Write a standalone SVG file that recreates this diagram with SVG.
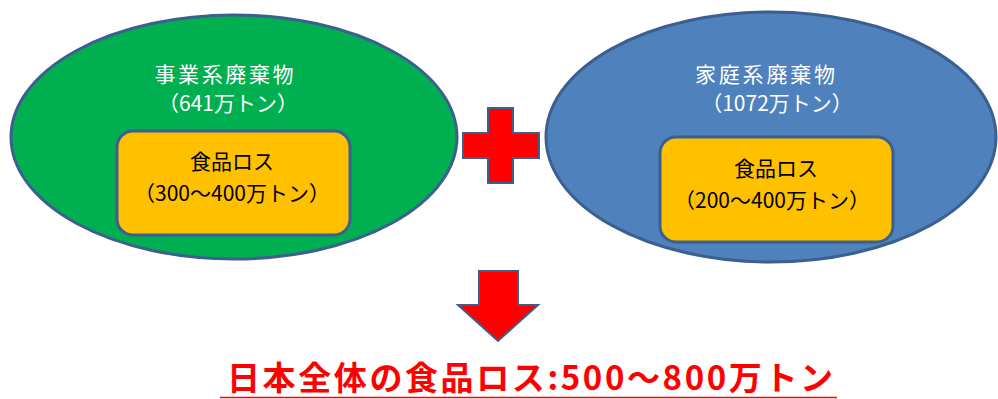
<svg xmlns="http://www.w3.org/2000/svg" width="998" height="399" viewBox="0 0 998 399">
<style>
.ell{stroke:#3B5F8F;stroke-width:3}
.box{fill:#FFC000;stroke:#3B5F8F;stroke-width:3}
.sym{fill:#FF0000;stroke:#3B5F8F;stroke-width:2}
text{font-family:"Noto Sans CJK JP","Noto Sans",sans-serif;text-anchor:middle}
.wt{fill:#FFFFFF;font-size:21px}
.bt{fill:#000000;font-size:21px}
.title{fill:#FF0000;font-size:33px;font-weight:bold;text-anchor:start}
</style>
<rect width="998" height="399" fill="#FFFFFF"/>
<g id="business">
<ellipse class="ell" cx="234" cy="137" rx="223" ry="122" fill="#00B050"/>
<text class="wt" x="224" y="82" textLength="139" lengthAdjust="spacing">事業系廃棄物</text>
<text class="wt" x="228" y="111">（641万トン）</text>
</g>
<g id="business-loss">
<rect class="box" x="117" y="131" width="233" height="104" rx="16"/>
<text class="bt" x="232" y="169">食品ロス</text>
<text class="bt" x="232" y="201">（300～400万トン）</text>
</g>
<g id="household">
<ellipse class="ell" cx="771" cy="137" rx="225" ry="125" fill="#4F81BD"/>
<text class="wt" x="765" y="82" textLength="140" lengthAdjust="spacing">家庭系廃棄物</text>
<text class="wt" x="777" y="111">（1072万トン）</text>
</g>
<g id="household-loss">
<rect class="box" x="660" y="137" width="233" height="105" rx="16"/>
<text class="bt" x="776" y="176">食品ロス</text>
<text class="bt" x="772" y="208">（200～400万トン）</text>
</g>
<g id="connectors">
<path id="plus" class="sym" d="M488,108 H513 V133 H539 V158 H513 V183 H488 V158 H463 V133 H488 Z"/>
<path id="down-arrow" class="sym" d="M479,271 H518 V305 H538 L498,341 L458,305 H479 Z"/>
</g>
<g id="total">
<text class="title" x="227" y="390" textLength="606" lengthAdjust="spacing">日本全体の食品ロス:500～800万トン</text>
<line x1="220" y1="397.5" x2="837" y2="397.5" stroke="#FF0000" stroke-width="1.5"/>
</g>
</svg>
